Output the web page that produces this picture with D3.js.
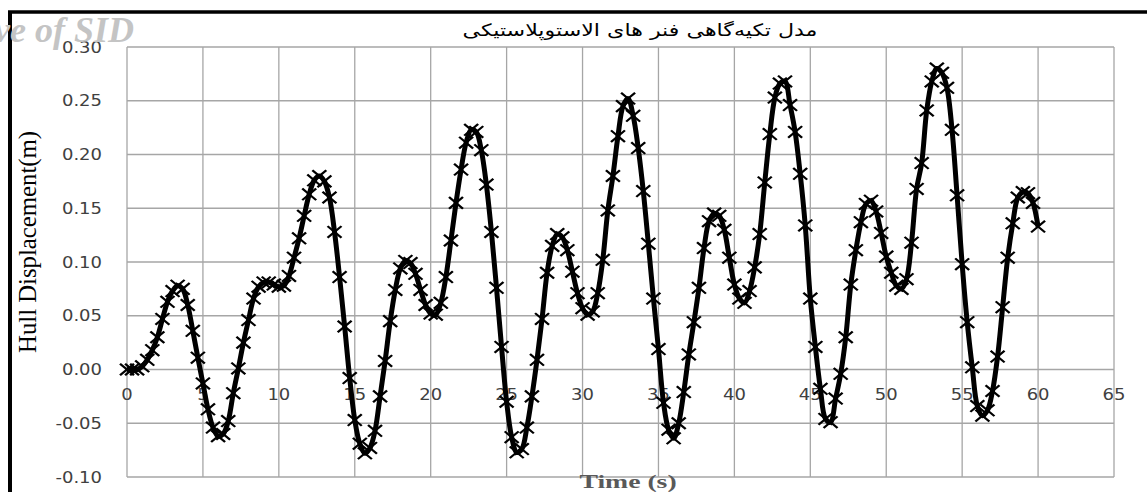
<!DOCTYPE html>
<html>
<head>
<meta charset="utf-8">
<script src="https://cdn.jsdelivr.net/npm/d3@7"></script>
<style>
  body { margin: 0; background: #fff; }
  svg { display: block; }
</style>
</head>
<body>
<div id="chart"></div>
<script>
// chart texts
const chartTitle = "مدل تکیه‌گاهی فنر های الاستوپلاستیکی";
const xTitle = "Time (s)";
const yTitle = "Hull Displacement(m)";
const watermark = "Archive of SID";

// axis ticks
const xTicks = [0, 5, 10, 15, 20, 25, 30, 35, 40, 45, 50, 55, 60, 65];
const yTicks = [-0.10, -0.05, 0.00, 0.05, 0.10, 0.15, 0.20, 0.25, 0.30];

// sample spacing of the time series (s)
const timeStep = 1 / 3;

// hull displacement (m), one value per time step from 0 to 60 s
const displacement = [
  0.000, 0.000, 0.000, 0.003, 0.009, 0.018, 0.030, 0.047, 0.063, 0.073,
  0.078, 0.075, 0.060, 0.036, 0.011, -0.013, -0.037, -0.054, -0.062, -0.060,
  -0.048, -0.022, 0.001, 0.025, 0.046, 0.066, 0.077, 0.081, 0.081, 0.079,
  0.077, 0.078, 0.087, 0.104, 0.122, 0.143, 0.163, 0.176, 0.180, 0.175,
  0.160, 0.128, 0.086, 0.040, -0.008, -0.047, -0.069, -0.078, -0.073, -0.057,
  -0.025, 0.008, 0.045, 0.074, 0.094, 0.101, 0.099, 0.089, 0.074, 0.060,
  0.052, 0.051, 0.062, 0.086, 0.120, 0.155, 0.186, 0.211, 0.223, 0.221,
  0.204, 0.172, 0.128, 0.076, 0.021, -0.030, -0.063, -0.077, -0.074, -0.054,
  -0.025, 0.009, 0.047, 0.090, 0.115, 0.126, 0.123, 0.111, 0.091, 0.071,
  0.057, 0.051, 0.054, 0.071, 0.102, 0.148, 0.180, 0.217, 0.245, 0.252,
  0.236, 0.206, 0.166, 0.117, 0.066, 0.019, -0.031, -0.056, -0.064, -0.050,
  -0.021, 0.014, 0.044, 0.076, 0.113, 0.138, 0.145, 0.143, 0.130, 0.104,
  0.079, 0.066, 0.062, 0.073, 0.095, 0.126, 0.174, 0.219, 0.253, 0.266,
  0.268, 0.246, 0.221, 0.182, 0.134, 0.066, 0.021, -0.018, -0.046, -0.049,
  -0.027, -0.004, 0.030, 0.079, 0.111, 0.137, 0.154, 0.157, 0.147, 0.127,
  0.105, 0.090, 0.078, 0.075, 0.084, 0.118, 0.168, 0.192, 0.241, 0.268,
  0.280, 0.276, 0.262, 0.223, 0.162, 0.098, 0.044, 0.002, -0.034, -0.043,
  -0.038, -0.020, 0.012, 0.058, 0.104, 0.136, 0.160, 0.165, 0.164, 0.155,
  0.133
];

const width = 1147;
const height = 492;
const plot = { left: 127, right: 1114, top: 47, bottom: 477 };
const stretch = 1.2; // text in the picture is drawn wide

const data = displacement.map((v, i) => ({ t: i * timeStep, v: v }));

const svg = d3.select("#chart")
  .append("svg")
  .attr("width", width)
  .attr("height", height);

const x = d3.scaleLinear().domain([0, 65]).range([plot.left, plot.right]);
const y = d3.scaleLinear().domain([-0.10, 0.30]).range([plot.bottom, plot.top]);

// outer frame (top and left black rules)
svg.append("line")
  .attr("x1", 8).attr("x2", width).attr("y1", 12).attr("y2", 12)
  .attr("stroke", "#000").attr("stroke-width", 3.5);
svg.append("line")
  .attr("x1", 10).attr("x2", 10).attr("y1", 11).attr("y2", height)
  .attr("stroke", "#000").attr("stroke-width", 4);

// grid
svg.append("g")
  .selectAll("line")
  .data(xTicks)
  .join("line")
  .attr("x1", d => x(d)).attr("x2", d => x(d))
  .attr("y1", plot.top).attr("y2", plot.bottom)
  .attr("stroke", "#a6a6a6").attr("stroke-width", 1.3);

svg.append("g")
  .selectAll("line")
  .data(yTicks)
  .join("line")
  .attr("x1", plot.left).attr("x2", plot.right)
  .attr("y1", d => y(d)).attr("y2", d => y(d))
  .attr("stroke", "#a6a6a6").attr("stroke-width", 1.3);

// tick labels
svg.append("g")
  .selectAll("text")
  .data(yTicks)
  .join("text")
  .attr("transform", d => `translate(102,${y(d) + 5.5}) scale(${stretch},1)`)
  .attr("text-anchor", "end")
  .attr("font-family", "DejaVu Sans")
  .attr("font-size", 15)
  .attr("fill", "#404040")
  .text(d => d.toFixed(2));

svg.append("g")
  .selectAll("text")
  .data(xTicks)
  .join("text")
  .attr("transform", d => `translate(${x(d)},${y(0) + 30}) scale(${stretch},1)`)
  .attr("text-anchor", "middle")
  .attr("font-family", "DejaVu Sans")
  .attr("font-size", 15)
  .attr("fill", "#404040")
  .text(d => d);

// series line
const line = d3.line()
  .x(d => x(d.t))
  .y(d => y(d.v))
  .curve(d3.curveCatmullRom.alpha(0.5));

svg.append("path")
  .datum(data)
  .attr("d", line)
  .attr("fill", "none")
  .attr("stroke", "#000")
  .attr("stroke-width", 5)
  .attr("stroke-linejoin", "round");

// x markers
const marker = d3.symbol().type(d3.symbolX).size(90);
svg.append("g")
  .selectAll("path")
  .data(data)
  .join("path")
  .attr("d", marker)
  .attr("transform", d => `translate(${x(d.t)},${y(d.v)}) scale(${stretch},1)`)
  .attr("fill", "none")
  .attr("stroke", "#000")
  .attr("stroke-width", 2);

// titles
svg.append("text")
  .attr("x", 640).attr("y", 36)
  .attr("text-anchor", "middle")
  .attr("direction", "rtl")
  .attr("font-family", "DejaVu Sans")
  .attr("font-size", 17)
  .attr("textLength", 355)
  .attr("lengthAdjust", "spacingAndGlyphs")
  .attr("fill", "#000")
  .text(chartTitle);

svg.append("text")
  .attr("transform", `translate(628,488) scale(${stretch},1)`)
  .attr("text-anchor", "middle")
  .attr("font-family", "Liberation Serif")
  .attr("font-weight", "bold")
  .attr("font-size", 19)
  .attr("textLength", 81)
  .attr("lengthAdjust", "spacingAndGlyphs")
  .attr("fill", "#595959")
  .text(xTitle);

svg.append("text")
  .attr("transform", `translate(36,242) scale(${stretch},1) rotate(-90)`)
  .attr("text-anchor", "middle")
  .attr("font-family", "Liberation Serif")
  .attr("font-size", 21)
  .attr("textLength", 222)
  .attr("lengthAdjust", "spacingAndGlyphs")
  .attr("fill", "#000")
  .text(yTitle);

// watermark
svg.append("text")
  .attr("x", 134).attr("y", 42)
  .attr("text-anchor", "end")
  .attr("font-family", "Liberation Serif")
  .attr("font-style", "italic")
  .attr("font-weight", "bold")
  .attr("font-size", 36)
  .attr("fill", "#c4c4c4")
  .text(watermark);
</script>
</body>
</html>
